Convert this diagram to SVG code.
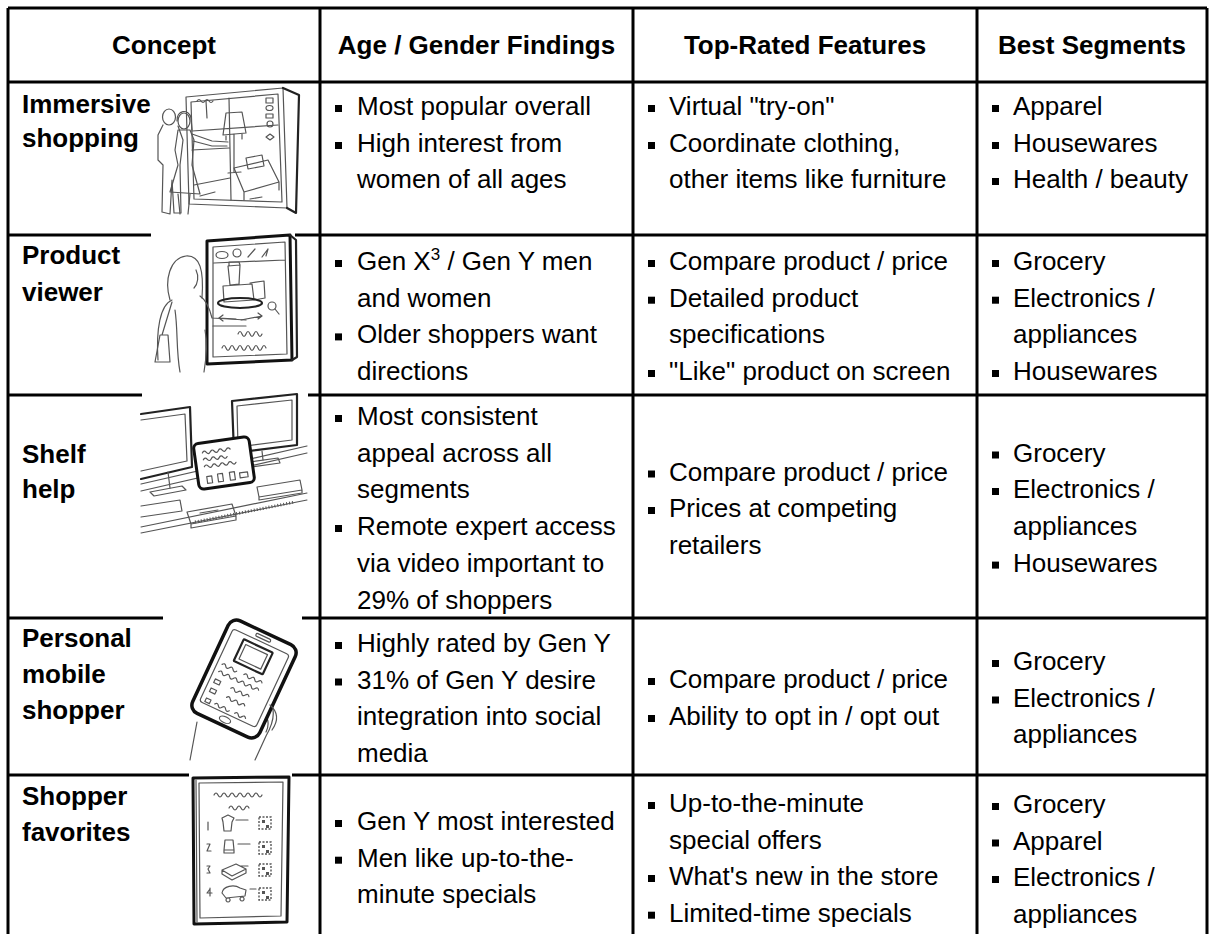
<svg xmlns="http://www.w3.org/2000/svg" width="1210" height="934" viewBox="0 0 1210 934">
<style>
.h{font-family:"Liberation Sans",Arial,sans-serif;font-size:26px;font-weight:bold;fill:#000}
.t{font-family:"Liberation Sans",Arial,sans-serif;font-size:26px;fill:#000}
.g{stroke:#000;stroke-width:3;fill:none}
.sk{fill:none;stroke:#555;stroke-width:1.2;stroke-linecap:round;stroke-linejoin:round}
.sk2{fill:none;stroke:#222;stroke-width:2.2;stroke-linecap:round;stroke-linejoin:round}
.sk3{fill:none;stroke:#111;stroke-width:3;stroke-linejoin:round}
</style>
<defs><rect id="b" width="7" height="7" fill="#000"/></defs>
<rect width="1210" height="934" fill="#fff"/>

<g id="grid" class="g">
<path d="M8,8 H1207 M8,82 H1207 M8,8 V934 M1207,8 V934 M320,8 V934 M633,8 V934 M977,8 V934"/>
<path d="M8,235 H151 M295,235 H1207 M8,395 H142 M308,395 H1207 M8,618 H163 M302,618 H1207 M8,775 H189 M292,775 H1207"/>
</g>

<g id="header">
<text class="h" x="164" y="54" text-anchor="middle">Concept</text>
<text class="h" x="476.5" y="54" text-anchor="middle">Age / Gender Findings</text>
<text class="h" x="805" y="54" text-anchor="middle">Top-Rated Features</text>
<text class="h" x="1092" y="54" text-anchor="middle">Best Segments</text>
</g>

<g id="sketch-immersive">
<path class="sk" d="M186,97 L283,88 L287,208 L189,204 Z"/>
<path class="sk" d="M191,102 L278,94 L282,202 L194,199 Z"/>
<path class="sk2" d="M283,88 L299,95 L296,213 L287,208"/>
<path class="sk" d="M229,98 L231,200 M192,131 L278,125 M206,101 L207,118 M192,150 L229,148"/>
<path class="sk" d="M226,113 L242,112 L246,133 L223,135 Z M234,134 L234,172 M228,173 L241,172 M226,136 L226,140 M242,134 L242,139"/>
<path class="sk" d="M234,168 L268,160 L279,182 L244,192 Z M244,192 L244,200 M279,182 L279,190 M246,158 L262,155 L264,166 L248,169 Z"/>
<path class="sk" d="M194,185 L230,178 M200,196 L215,192 M250,199 L262,197"/>
<path class="sk" d="M266,98 h7 v5 h-7 Z M266,108 a3.5,2.5 0 1,0 7,0 a3.5,2.5 0 1,0 -7,0 M266,114 h7 v4 h-7 Z M267,124 a3,3 0 1,0 6,0 a3,3 0 1,0 -6,0 M266,137 l4,-3 l4,3 l-4,3 Z"/>
<path class="sk" d="M197,101 q2,-3 4,0 t4,0 t4,0 t4,0"/>
<ellipse class="sk" cx="169" cy="117" rx="6.5" ry="8" fill="#fff"/>
<path class="sk" d="M163,125 L158,135 L158,160 L163,165 L162,212 L170,214 L172,180 L174,213 L181,213 L180,165 L183,140 L178,126"/>
<path class="sk" d="M178,130 L175,150 L178,165 L170,192 L200,194 L192,165 L194,140 L190,130 Z" fill="#fff"/>
<ellipse class="sk" cx="184" cy="121" rx="6" ry="8" fill="#fff"/>
<path class="sk" d="M177,121 C176,110 189,108 191,118 L192,130 M192,134 L212,141 L228,142 M193,141 L212,146 L227,146 M178,194 L180,214 M190,194 L188,214"/>
</g>

<g id="sketch-product">
<path class="sk3" d="M207,241 L290,235 L292,360 L207,364 Z"/>
<path class="sk2" d="M290,235 L296,240 L297,357 L292,360"/>
<path class="sk" d="M213,247 L285,242 L287,354 L213,357 Z M214,263 L285,260"/>
<ellipse class="sk" cx="222" cy="255" rx="6" ry="3.5"/>
<circle class="sk" cx="237" cy="253" r="4"/>
<path class="sk" d="M248,257 L255,249 M262,257 L268,249 L266,256"/>
<path class="sk" d="M228,266 L240,265 L239,284 L230,285 Z M229,266 L229,262 L239,262 L240,265 M223,286 L252,284 L254,300 L224,302 Z M250,283 L264,281 L265,298 L254,300"/>
<ellipse class="sk2" cx="240" cy="303" rx="22" ry="5"/>
<circle class="sk" cx="272" cy="306" r="4"/>
<path class="sk" d="M275,309 L279,314"/>
<path class="sk" d="M219,318 L236,319 M219,318 l4,-3 M219,318 l4,3 M241,320 L262,316 M262,316 l-4,-3 M262,316 l-4,3"/>
<path class="sk" d="M238,334 q2,-5 4,0 t4,0 t4,0 t4,0 t4,0 t4,0 M222,348 q2,-5 4,0 t4,0 t4,0 t4,0 t4,0 t4,0 t4,0 t4,0 t4,0 t4,0 t4,0"/>
<path class="sk" d="M170,300 C164,280 170,258 186,256 C200,255 204,270 202,298 M196,270 C199,276 198,284 194,288"/>
<path class="sk" d="M172,300 C160,305 156,330 158,360 M200,296 C206,300 210,310 212,318 L246,320 M213,326 L246,326 M205,330 C208,345 206,360 204,372 M175,310 C178,330 176,350 180,372"/>
<path class="sk" d="M172,302 L162,335 M160,335 L155,362 L170,362 L168,335 Z"/>
</g>

<g id="sketch-shelf">
<path class="sk" d="M141,484 L307,446 M141,491 L307,453 M141,527 L307,493 M141,533 L307,500"/>
<path d="M195,522 L295,502" stroke="#555" stroke-width="3" stroke-dasharray="1 2" fill="none"/>
<path class="sk2" d="M141,414 L190,407 L192,467 L141,479" fill="#fff"/>
<path class="sk" d="M141,420 L185,414 L187,461 L141,471 M168,472 L170,488"/>
<path class="sk" d="M150,492 L182,486 L186,490 L154,496 Z" fill="#fff"/>
<path class="sk2" d="M232,401 L297,394 L297,445 L234,453 Z" fill="#fff"/>
<path class="sk" d="M237,406 L292,400 L292,440 L238,447 Z M262,451 L263,460"/>
<path class="sk" d="M250,462 L278,458 L280,463 L252,467 Z" fill="#fff"/>
<path class="sk" d="M141,506 L180,500 L182,511 L141,517"/>
<path class="sk" d="M187,512 L232,504 L236,516 L191,524 Z M191,524 L191,528 L236,520 L236,516 M200,513 L218,510" fill="#fff"/>
<path class="sk" d="M257,487 L300,480 L302,490 L259,497 Z M259,497 L259,500 L302,493 L302,490" fill="#fff"/>
<g transform="rotate(-8 224 463)">
<rect x="196" y="440" width="56" height="46" rx="5" fill="#fff" stroke="#111" stroke-width="3"/>
<path class="sk" d="M204,450 q2,-3 4,0 t4,0 t4,0 t4,0 t4,0 t4,0 t4,0 M204,457 q2,-3 4,0 t4,0 t4,0 t4,0 t4,0 t4,0 M204,464 q2,-3 4,0 t4,0 t4,0 t4,0 t4,0 t4,0 t4,0 t4,0"/>
<path class="sk" d="M205,474 h5 v7 h-5 Z M216,473 h5 v8 h-5 Z M228,473 h5 v8 h-5 Z M238,475 h8 v5 h-8 Z"/>
</g>
</g>

<g id="sketch-mobile">
<path class="sk" d="M197,722 L190,760 M268,698 C276,708 274,722 266,736 L255,760 M262,712 C268,716 270,724 266,732"/>
<g transform="translate(244,679) rotate(25)">
<rect x="-37" y="-51" width="74" height="102" rx="9" fill="#fff" stroke="#111" stroke-width="3.5"/>
<rect class="sk" x="-31" y="-41" width="62" height="80" rx="3"/>
<rect class="sk" x="-8" y="-47" width="16" height="3" rx="1.5"/>
<ellipse class="sk" cx="0" cy="45" rx="6" ry="3"/>
<rect class="sk2" x="-17" y="-36" width="32" height="24" rx="1"/>
<rect class="sk" x="-13" y="-32" width="24" height="16"/>
<path class="sk" d="M-26,-4 q2,-3 4,0 t4,0 t4,0 t4,0 M-2,-4 q2,-3 4,0 t4,0 t4,0 t4,0 t4,0 M-26,4 q2,-3 4,0 t4,0 t4,0 t4,0 t4,0 t4,0 t4,0 t4,0 t4,0 t4,0 t4,0 M-26,12 h6 v4 h-6 Z M-8,14 q2,-3 4,0 t4,0 t4,0 t4,0 t4,0 M-26,22 h6 v4 h-6 Z M-8,24 q2,-3 4,0 t4,0 t4,0 t4,0 t4,0 M-26,33 h5 v4 h-5 Z M-16,35 q2,-3 4,0 t4,0 t4,0 t4,0 M6,35 q2,-3 4,0 t4,0 t4,0"/>
</g>
<path class="sk" d="M270,705 C278,712 279,720 272,730"/>
</g>

<g id="sketch-favorites">
<path class="sk3" d="M193,778 L289,777 L287,922 L194,924 Z"/>
<path class="sk" d="M199,783 L283,782 L281,916 L200,918 Z M196,780 L197,922"/>
<path class="sk" d="M214,795 q2,-4 4,0 t4,0 t4,0 t4,0 t4,0 t4,0 t4,0 t4,0 t4,0 t4,0 t4,0 t4,0 M229,808 q2,-4 4,0 t4,0 t4,0 t4,0 t4,0"/>
<path class="sk" d="M208,822 v8 M207,844 h3 l-3,7 h4 M207,866 h3 l-2,3 l2,4 h-3 M210,889 l-3,4 h5 M210,888 v8"/>
<path class="sk" d="M222,818 L228,815 L234,818 L232,822 L231,831 L224,831 L223,822 Z M236,820 h12"/>
<path class="sk" d="M225,840 h8 l1,10 h-10 Z M224,850 h10 v3 h-10 Z M238,844 h12"/>
<path class="sk" d="M222,870 L236,864 L246,869 L232,876 Z M222,870 L222,874 L232,880 L246,873 L246,869 M240,866 h8"/>
<path class="sk" d="M222,893 C223,886 234,884 240,888 L246,890 L245,896 L226,898 Z M228,898 a2,2 0 1,0 0.1,0 M242,897 a2,2 0 1,0 0.1,0 M250,889 h6"/>
<path d="M259,817 h12 v12 h-12 Z M259,842 h12 v12 h-12 Z M259,864 h12 v12 h-12 Z M259,888 h12 v12 h-12 Z" fill="none" stroke="#555" stroke-width="1.4" stroke-dasharray="2 1.5"/>
<path d="M262,820 h3 v3 h-3 Z M266,825 h3 v3 h-3 Z M262,845 h3 v3 h-3 Z M266,850 h3 v3 h-3 Z M262,867 h3 v3 h-3 Z M266,872 h3 v3 h-3 Z M262,891 h3 v3 h-3 Z M266,896 h3 v3 h-3 Z" fill="#555"/>
</g>

<g id="row-immersive">
<text class="h" x="22" y="113">Immersive</text>
<text class="h" x="22" y="147">shopping</text>
<use href="#b" x="335" y="105"/><text class="t" x="357" y="115">Most popular overall</text>
<use href="#b" x="335" y="142"/><text class="t" x="357" y="152">High interest from</text>
<text class="t" x="357" y="188">women of all ages</text>
<use href="#b" x="648" y="105"/><text class="t" x="669" y="115">Virtual "try-on"</text>
<use href="#b" x="648" y="142"/><text class="t" x="669" y="152">Coordinate clothing,</text>
<text class="t" x="669" y="188">other items like furniture</text>
<use href="#b" x="992" y="105"/><text class="t" x="1013" y="115">Apparel</text>
<use href="#b" x="992" y="142"/><text class="t" x="1013" y="152">Housewares</text>
<use href="#b" x="992" y="178"/><text class="t" x="1013" y="188">Health / beauty</text>
</g>

<g id="row-product-viewer">
<text class="h" x="22" y="264">Product</text>
<text class="h" x="22" y="301">viewer</text>
<use href="#b" x="335" y="260"/><text class="t" x="357" y="270">Gen X<tspan dy="-10" font-size="17">3</tspan><tspan dy="10"> / Gen Y men</tspan></text>
<text class="t" x="357" y="306.7">and women</text>
<use href="#b" x="335" y="333.4"/><text class="t" x="357" y="343.4">Older shoppers want</text>
<text class="t" x="357" y="380">directions</text>
<use href="#b" x="648" y="260"/><text class="t" x="669" y="270">Compare product / price</text>
<use href="#b" x="648" y="296.7"/><text class="t" x="669" y="306.7">Detailed product</text>
<text class="t" x="669" y="343.4">specifications</text>
<use href="#b" x="648" y="370"/><text class="t" x="669" y="380">"Like" product on screen</text>
<use href="#b" x="992" y="260"/><text class="t" x="1013" y="270">Grocery</text>
<use href="#b" x="992" y="296.7"/><text class="t" x="1013" y="306.7">Electronics /</text>
<text class="t" x="1013" y="343.4">appliances</text>
<use href="#b" x="992" y="370"/><text class="t" x="1013" y="380">Housewares</text>
</g>

<g id="row-shelf-help">
<text class="h" x="22" y="463">Shelf</text>
<text class="h" x="22" y="498">help</text>
<use href="#b" x="335" y="415"/><text class="t" x="357" y="425">Most consistent</text>
<text class="t" x="357" y="461.7">appeal across all</text>
<text class="t" x="357" y="498.4">segments</text>
<use href="#b" x="335" y="525"/><text class="t" x="357" y="535">Remote expert access</text>
<text class="t" x="357" y="571.8">via video important to</text>
<text class="t" x="357" y="608.5">29% of shoppers</text>
<use href="#b" x="648" y="470.5"/><text class="t" x="669" y="480.5">Compare product / price</text>
<use href="#b" x="648" y="507"/><text class="t" x="669" y="517">Prices at competing</text>
<text class="t" x="669" y="553.7">retailers</text>
<use href="#b" x="992" y="451.5"/><text class="t" x="1013" y="461.5">Grocery</text>
<use href="#b" x="992" y="488"/><text class="t" x="1013" y="498">Electronics /</text>
<text class="t" x="1013" y="535">appliances</text>
<use href="#b" x="992" y="561.6"/><text class="t" x="1013" y="571.6">Housewares</text>
</g>

<g id="row-personal-mobile-shopper">
<text class="h" x="22" y="647">Personal</text>
<text class="h" x="22" y="683">mobile</text>
<text class="h" x="22" y="719">shopper</text>
<use href="#b" x="335" y="642"/><text class="t" x="357" y="652">Highly rated by Gen Y</text>
<use href="#b" x="335" y="678.5"/><text class="t" x="357" y="688.5">31% of Gen Y desire</text>
<text class="t" x="357" y="725">integration into social</text>
<text class="t" x="357" y="761.7">media</text>
<use href="#b" x="648" y="678"/><text class="t" x="669" y="688">Compare product / price</text>
<use href="#b" x="648" y="715"/><text class="t" x="669" y="725">Ability to opt in / opt out</text>
<use href="#b" x="992" y="660"/><text class="t" x="1013" y="670">Grocery</text>
<use href="#b" x="992" y="696.5"/><text class="t" x="1013" y="706.5">Electronics /</text>
<text class="t" x="1013" y="743">appliances</text>
</g>

<g id="row-shopper-favorites">
<text class="h" x="22" y="805">Shopper</text>
<text class="h" x="22" y="841">favorites</text>
<use href="#b" x="335" y="820"/><text class="t" x="357" y="830">Gen Y most interested</text>
<use href="#b" x="335" y="856.7"/><text class="t" x="357" y="866.7">Men like up-to-the-</text>
<text class="t" x="357" y="903.4">minute specials</text>
<use href="#b" x="648" y="802"/><text class="t" x="669" y="812">Up-to-the-minute</text>
<text class="t" x="669" y="848.5">special offers</text>
<use href="#b" x="648" y="875"/><text class="t" x="669" y="885">What's new in the store</text>
<use href="#b" x="648" y="911.7"/><text class="t" x="669" y="921.7">Limited-time specials</text>
<use href="#b" x="992" y="803"/><text class="t" x="1013" y="813">Grocery</text>
<use href="#b" x="992" y="839.5"/><text class="t" x="1013" y="849.5">Apparel</text>
<use href="#b" x="992" y="876"/><text class="t" x="1013" y="886">Electronics /</text>
<text class="t" x="1013" y="922.5">appliances</text>
</g>
</svg>
